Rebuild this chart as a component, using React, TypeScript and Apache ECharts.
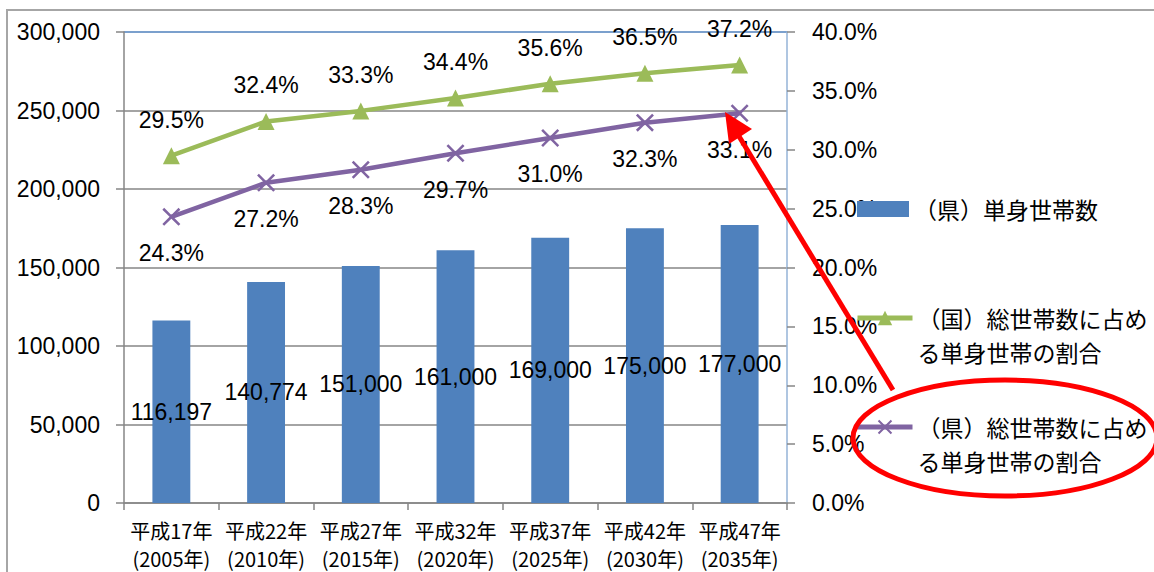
import React, { useEffect, useRef } from "react";
import * as echarts from "echarts";

const categories = [
  "平成17年\n(2005年)",
  "平成22年\n(2010年)",
  "平成27年\n(2015年)",
  "平成32年\n(2020年)",
  "平成37年\n(2025年)",
  "平成42年\n(2030年)",
  "平成47年\n(2035年)",
];
const prefSingleHouseholds = [116197, 140774, 151000, 161000, 169000, 175000, 177000];
const nationalShare = [29.5, 32.4, 33.3, 34.4, 35.6, 36.5, 37.2];
const prefShare = [24.3, 27.2, 28.3, 29.7, 31.0, 32.3, 33.1];
const seriesNames = [
  "（県）単身世帯数",
  "（国）総世帯数に占める単身世帯の割合",
  "（県）総世帯数に占める単身世帯の割合",
];

const NUM_FONT = "'Liberation Sans', Arial, sans-serif";
const JP_FONT = "'Noto Sans CJK JP', sans-serif";
const GRAY = "#868686";
const X_SYMBOL = "path://M0,1L1,0L5,4L9,0L10,1L6,5L10,9L9,10L5,6L1,10L0,9L4,5Z";

// leading blank line keeps the icon level with the first line of text
const splitTwo = (n: string) => "\n" + n.slice(0, 10) + "\n" + n.slice(10);

export default function App() {
  const ref = useRef<HTMLDivElement>(null);
  useEffect(() => {
    if (!ref.current) return;
    const chart = echarts.init(ref.current, null, { renderer: "svg" });
    const legendText = { fontFamily: JP_FONT, fontSize: 23, color: "#000", lineHeight: 34 };
    chart.setOption({
      animation: false,
      backgroundColor: "#fff",
      grid: { left: 124, right: 367, top: 32, bottom: 67, containLabel: false },
      legend: [
        {
          left: 857,
          top: 192,
          padding: 0,
          orient: "vertical",
          icon: "rect",
          itemWidth: 52,
          itemHeight: 16,
          data: [seriesNames[0]],
          textStyle: legendText,
        },
        {
          left: 855,
          top: 267,
          padding: 0,
          orient: "vertical",
          itemWidth: 55,
          itemHeight: 18,
          lineStyle: { width: 5 },
          formatter: splitTwo,
          data: [seriesNames[1]],
          textStyle: legendText,
        },
        {
          left: 855,
          top: 376,
          padding: 0,
          orient: "vertical",
          itemWidth: 55,
          itemHeight: 18,
          lineStyle: { width: 5 },
          formatter: splitTwo,
          data: [seriesNames[2]],
          textStyle: legendText,
        },
      ],
      xAxis: {
        type: "category",
        data: categories,
        axisLine: { lineStyle: { color: GRAY, width: 1.5 } },
        axisTick: { show: true, length: 7, lineStyle: { color: GRAY, width: 1.5 } },
        axisLabel: {
          fontFamily: JP_FONT,
          fontSize: 20,
          lineHeight: 28,
          margin: 13,
          color: "#000",
          interval: 0,
        },
      },
      yAxis: [
        {
          type: "value",
          min: 0,
          max: 300000,
          interval: 50000,
          axisLine: { show: true, lineStyle: { color: GRAY, width: 1.5 } },
          axisTick: { show: true, length: 8, lineStyle: { color: GRAY, width: 1.5 } },
          splitLine: {
            show: true,
            lineStyle: {
              color: [GRAY, GRAY, GRAY, GRAY, GRAY, GRAY, "#4F81BD"],
              width: 1.5,
            },
          },
          axisLabel: {
            fontFamily: NUM_FONT,
            fontSize: 23,
            color: "#000",
            margin: 24,
            formatter: (v: number) => v.toLocaleString("en-US"),
          },
        },
        {
          type: "value",
          position: "right",
          min: 0,
          max: 40,
          interval: 5,
          axisLine: { show: true, lineStyle: { color: "#95B3D7", width: 1.5 } },
          axisTick: { show: true, length: 8, lineStyle: { color: GRAY, width: 1.5 } },
          splitLine: { show: false },
          axisLabel: {
            fontFamily: NUM_FONT,
            fontSize: 23,
            color: "#000",
            margin: 25,
            formatter: (v: number) => v.toFixed(1) + "%",
          },
        },
      ],
      series: [
        {
          name: seriesNames[0],
          type: "bar",
          data: prefSingleHouseholds,
          barWidth: "40%",
          itemStyle: { color: "#4F81BD" },
          label: {
            show: true,
            position: "inside",
            fontFamily: NUM_FONT,
            fontSize: 23,
            color: "#000",
            formatter: (p: any) => Number(p.value).toLocaleString("en-US"),
          },
          z: 2,
        },
        {
          name: seriesNames[1],
          type: "line",
          yAxisIndex: 1,
          data: nationalShare,
          symbol: "triangle",
          symbolSize: 17,
          lineStyle: { color: "#9BBB59", width: 4.5 },
          itemStyle: { color: "#9BBB59" },
          label: {
            show: true,
            position: "top",
            distance: 16,
            fontFamily: NUM_FONT,
            fontSize: 23,
            color: "#000",
            formatter: (p: any) => Number(p.value).toFixed(1) + "%",
          },
          z: 4,
        },
        {
          name: seriesNames[2],
          type: "line",
          yAxisIndex: 1,
          data: prefShare,
          symbol: X_SYMBOL,
          symbolSize: 18,
          lineStyle: { color: "#8064A2", width: 4.5 },
          itemStyle: { color: "#8064A2" },
          label: {
            show: true,
            position: "bottom",
            distance: 16,
            fontFamily: NUM_FONT,
            fontSize: 23,
            color: "#000",
            formatter: (p: any) => Number(p.value).toFixed(1) + "%",
          },
          z: 4,
        },
      ],
      graphic: [
        {
          type: "rect",
          z: 0,
          shape: { x: 7, y: 10, width: 1300, height: 700 },
          style: { fill: "none", stroke: "#A6A6A6", lineWidth: 2 },
          silent: true,
        },
        {
          type: "ellipse",
          z: 100,
          shape: { cx: 1005, cy: 438, rx: 152, ry: 58 },
          style: { fill: "none", stroke: "#FF0000", lineWidth: 5 },
          silent: true,
        },
        {
          type: "line",
          z: 100,
          shape: { x1: 893, y1: 390, x2: 737, y2: 133 },
          style: { stroke: "#FF0000", lineWidth: 5 },
          silent: true,
        },
        {
          type: "polygon",
          z: 100,
          shape: { points: [[725, 112], [729, 144], [752, 129]] },
          style: { fill: "#FF0000" },
          silent: true,
        },
      ],
    });
    return () => chart.dispose();
  }, []);
  return (
    <div
      ref={ref}
      style={{ position: "absolute", left: 0, top: 0, width: 1154, height: 572 }}
    />
  );
}
